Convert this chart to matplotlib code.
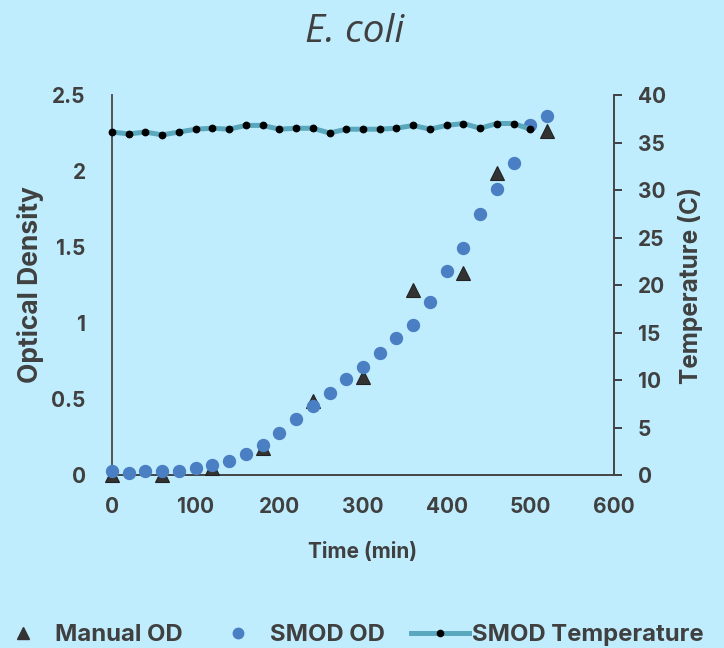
import matplotlib
matplotlib.use("Agg")
import matplotlib.pyplot as plt
from matplotlib.lines import Line2D

# ---- data ----
time_manual = [0, 60, 120, 180, 240, 300, 360, 420, 460, 520]
manual_od = [0.0, 0.0, 0.045, 0.18, 0.49, 0.645, 1.22, 1.33, 1.99, 2.265]

time_smod = [0, 20, 40, 60, 80, 100, 120, 140, 160, 180, 200, 220, 240, 260,
             280, 300, 320, 340, 360, 380, 400, 420, 440, 460, 480, 500, 520]
smod_od = [0.026, 0.015, 0.026, 0.026, 0.026, 0.046, 0.067, 0.094, 0.136, 0.197,
           0.274, 0.368, 0.456, 0.541, 0.633, 0.712, 0.80, 0.903, 0.989, 1.14,
           1.34, 1.495, 1.72, 1.88, 2.05, 2.30, 2.36]

time_temp = [0, 20, 40, 60, 80, 100, 120, 140, 160, 180, 200, 220, 240,
             260, 280, 300, 320, 340, 360, 380, 400, 420, 440, 460, 480, 500]
temperature = [36.1, 35.9, 36.1, 35.8, 36.1, 36.4, 36.5, 36.4, 36.8, 36.8,
               36.4, 36.5, 36.5, 36.0, 36.4, 36.4, 36.4, 36.5, 36.8, 36.4,
               36.8, 37.0, 36.5, 37.0, 37.0, 36.4]

x_ticks = [0, 100, 200, 300, 400, 500, 600]
od_ticks = [0, 0.5, 1, 1.5, 2, 2.5]
od_ticklabels = ["0", "0.5", "1", "1.5", "2", "2.5"]
temp_ticks = [0, 5, 10, 15, 20, 25, 30, 35, 40]

# ---- style ----
BG = "#C0EDFE"
TXT = "#404040"
BLUE = "#4A7FC3"
TRI = "#333333"
TEAL = "#5AA8BE"
FONT = ["Inter", "DejaVu Sans"]
W = 700
TS = 15

plt.rcParams["font.family"] = FONT
plt.rcParams["font.weight"] = W

fig = plt.figure(figsize=(7.24, 6.48), dpi=100, facecolor=BG)
ax = fig.add_axes([112 / 724, 1 - 475 / 648, (614 - 112) / 724, (475 - 95) / 648])
ax.set_facecolor("none")

ax.plot(time_manual, manual_od, linestyle="none", marker="^", ms=10.5,
        color=TRI, mec="#222222", mew=0.8, zorder=3, clip_on=False)
ax.plot(time_smod, smod_od, linestyle="none", marker="o", ms=8.6,
        color=BLUE, mec=BLUE, zorder=4, clip_on=False)

ax.set_xlim(0, 600)
ax.set_ylim(0, 2.5)
ax.set_xticks(x_ticks)
ax.set_yticks(od_ticks)
ax.set_yticklabels(od_ticklabels)
ax.tick_params(axis="x", length=0, pad=16, labelsize=TS, colors=TXT)
ax.tick_params(axis="y", length=0, pad=19, labelsize=TS, colors=TXT)
for lab in ax.get_xticklabels() + ax.get_yticklabels():
    lab.set_fontweight(W)
ax.spines["top"].set_visible(False)
ax.spines["right"].set_visible(False)
ax.spines["left"].set_color("#555555")
ax.spines["left"].set_linewidth(1.4)
ax.spines["bottom"].set_color("#444444")
ax.spines["bottom"].set_linewidth(1.4)
ax.set_xlabel("Time (min)", fontsize=TS, fontweight=W, color=TXT, labelpad=18)
ax.set_ylabel("Optical Density", fontsize=19, fontweight=W, color=TXT, labelpad=5)

ax2 = ax.twinx()
ax2.plot(time_temp, temperature, color=TEAL, lw=3.6, marker="o", ms=4.6,
         mfc="black", mec="black", zorder=5, clip_on=False)
ax2.set_ylim(0, 40)
ax2.set_yticks(temp_ticks)
ax2.tick_params(axis="y", length=6, width=1.4, pad=11, labelsize=TS,
                colors=TXT, direction="out")
for lab in ax2.get_yticklabels():
    lab.set_fontweight(W)
for s in ["top", "left", "bottom"]:
    ax2.spines[s].set_visible(False)
ax2.spines["right"].set_color("#444444")
ax2.spines["right"].set_linewidth(1.4)
ax2.set_ylabel("Temperature (C)", fontsize=17.5, fontweight=W, color=TXT, labelpad=9)

fig.text(355 / 724, 1 - 32 / 648, "E. coli", fontsize=28, style="italic",
         fontweight="normal", color=TXT, ha="center", va="center",
         family=["Open Sans", "DejaVu Sans"])

FS = 17.2
handles = [
    Line2D([], [], linestyle="none", marker="^", ms=8, color=TRI),
    Line2D([], [], linestyle="none", marker="o", ms=7.5, color=BLUE),
    Line2D([], [], color=TEAL, lw=3.6, marker="o", ms=4.5, mfc="black", mec="black"),
]
labels = ["Manual OD", "SMOD OD", "SMOD Temperature"]
px = FS * 100 / 72
leg = fig.legend(handles, labels, loc="center left",
                 bbox_to_anchor=(-6 / 724, 1 - 635 / 648),
                 ncol=3, frameon=False, fontsize=FS, handlelength=58 / px,
                 columnspacing=26 / px, handletextpad=3 / px,
                 borderpad=0, borderaxespad=0)
for t in leg.get_texts():
    t.set_color(TXT)
    t.set_fontweight(W)

fig.savefig("out.png", dpi=100, facecolor=BG)
